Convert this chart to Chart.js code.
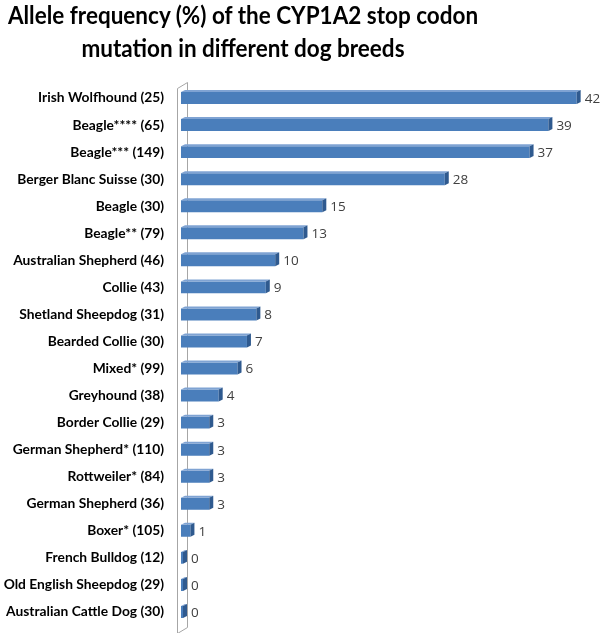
<!DOCTYPE html>
<html><head><meta charset="utf-8">
<script src="https://cdn.jsdelivr.net/npm/chart.js@4/dist/chart.umd.min.js"></script>
<style>
html,body{margin:0;padding:0;background:#fff;}
#wrap{position:relative;width:602px;height:633px;}
#title{position:absolute;left:0;top:-1px;width:486px;text-align:center;white-space:nowrap;font-family:Lato,"Open Sans",sans-serif;font-weight:bold;font-size:22.5px;line-height:30px;color:#000;transform:scale(1,1.1);transform-origin:0 0;}
canvas{position:absolute;left:0;top:0;}
</style></head>
<body><div id="wrap"><canvas id="c" width="602" height="633"></canvas>
<div id="title">Allele frequency (%) of the CYP1A2 stop codon<br>mutation in different dog breeds</div></div>
<script>
const categories = ["Irish Wolfhound (25)","Beagle**** (65)","Beagle*** (149)","Berger Blanc Suisse (30)","Beagle (30)","Beagle** (79)","Australian Shepherd (46)","Collie (43)","Shetland Sheepdog (31)","Bearded Collie (30)","Mixed* (99)","Greyhound (38)","Border Collie (29)","German Shepherd* (110)","Rottweiler* (84)","German Shepherd (36)","Boxer* (105)","French Bulldog (12)","Old English Sheepdog (29)","Australian Cattle Dog (30)"];
const frequencies = [42,39,37,28,15,13,10,9,8,7,6,4,3,3,3,3,1,0,0,0];
const xMin = 0, xMax = 44;

const DEPTH = 4;
const bar3d = {
  id:'bar3d',
  beforeDatasetsDraw(chart){
    const {ctx, chartArea:a} = chart;
    ctx.save();
    ctx.strokeStyle = '#a6a6a6'; ctx.lineWidth = 1;
    const L = a.left - 4, R = a.left + 6, top = a.top + 4, bot = a.bottom + 8;
    ctx.fillStyle = '#ffffff';
    ctx.beginPath();
    ctx.moveTo(L+0.5, top); ctx.lineTo(R+0.5, top-6); ctx.lineTo(R+0.5, bot-6); ctx.lineTo(L+0.5, bot); ctx.closePath();
    ctx.fill(); ctx.stroke();
    ctx.restore();
  },
  afterDatasetsDraw(chart){
    const {ctx} = chart;
    const meta = chart.getDatasetMeta(0);
    ctx.save();
    meta.data.forEach((el, i) => {
      const x0 = el.base, x1 = el.x, h = el.height, yT = el.y - h/2, yB = el.y + h/2;
      ctx.fillStyle = '#7fa3d3';
      ctx.beginPath();
      ctx.moveTo(x0, yT); ctx.lineTo(x0 + DEPTH, yT - DEPTH/2); ctx.lineTo(x1 + DEPTH, yT - DEPTH/2); ctx.lineTo(x1, yT); ctx.closePath(); ctx.fill();
      ctx.fillStyle = '#2f5a8f';
      ctx.beginPath();
      ctx.moveTo(x1, yT); ctx.lineTo(x1 + DEPTH, yT - DEPTH/2); ctx.lineTo(x1 + DEPTH, yB - DEPTH/2); ctx.lineTo(x1, yB); ctx.closePath(); ctx.fill();
      ctx.fillStyle = '#404040';
      ctx.font = '13.5px "Open Sans", sans-serif';
      ctx.textAlign = 'left'; ctx.textBaseline = 'middle';
      ctx.fillText(String(frequencies[i]), x1 + DEPTH + 4, el.y + 1);
    });
    ctx.restore();
  }
};

const ctx = document.getElementById('c').getContext('2d');
new Chart(ctx, {
  type:'bar',
  data:{labels:categories, datasets:[{data:frequencies,
    backgroundColor:(c)=>{
      const el = c.element;
      if(!el || !isFinite(el.y) || !isFinite(el.height) || !el.height) return '#4a7ebb';
      const y = el.y, h = el.height;
      const g = c.chart.ctx.createLinearGradient(0, y-h/2, 0, y+h/2);
      g.addColorStop(0,'#5b8ccb'); g.addColorStop(0.5,'#4a7ebb'); g.addColorStop(1,'#3a6aa6');
      return g;
    },
    borderWidth:0, barPercentage:0.88, categoryPercentage:0.5, minBarLength:2}]},
  options:{
    indexAxis:'y', responsive:false, animation:false,
    layout:{padding:{left:0,right:6.5,top:84.5,bottom:7.5}},
    plugins:{legend:{display:false}, title:{display:false}, tooltip:{enabled:false}},
    scales:{
      x:{min:xMin,max:xMax,display:false},
      y:{grid:{display:false,drawTicks:false}, border:{display:false},
        ticks:{color:'#000',padding:17,font:{family:'Lato, "Open Sans", sans-serif',weight:'bold',size:13.8}},
        afterFit(s){ s.width = 181; s.paddingTop = 0; s.paddingBottom = 0; }}
    }
  },
  plugins:[bar3d]
});
</script></body></html>
